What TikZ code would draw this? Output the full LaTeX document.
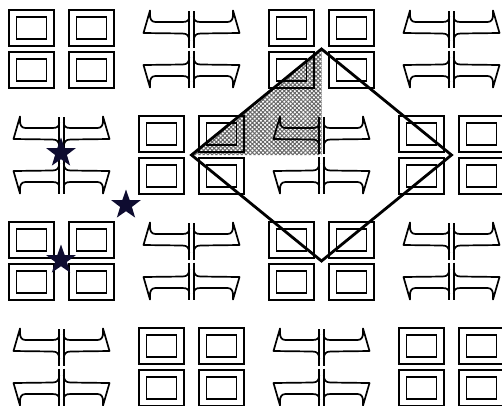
\documentclass[tikz,border=0pt]{standalone}
\usetikzlibrary{shapes.geometric,patterns.meta}
\definecolor{StarInk}{RGB}{14,12,48}

\begin{document}
\begin{tikzpicture}[x=1pt, y=-1pt]
\tikzset{
  boxline/.style={line width=1.8pt},
  braceline/.style={line width=1.7pt, line join=round},
  frame/.style={line width=2.8pt, line join=miter},
  shadetri/.style={pattern={Hatch[angle=45,distance=3pt,line width=1pt]}, pattern color=black!60},
  starmark/.style={star, star points=5, star point ratio=2.5, minimum size=31pt, inner sep=0pt, fill=StarInk},
  boxquad/.pic={
    \draw[boxline] (-52.5,-39) rectangle (-7.5,-3);
    \draw[boxline] (-45,-32) rectangle (-15,-10);
  },
  bracequad/.pic={
    \draw[braceline] (-2.3,-1.5) -- (-2.3,-38.5);
    \draw[braceline] (-2.3,-33) .. controls (-2.3,-28.5) and (-4,-27) .. (-9,-27) -- (-36,-27)
      .. controls (-40,-27) and (-41.5,-30) .. (-41.5,-34) -- (-41.5,-38.5) -- (-48,-16) -- (-9,-15.5)
      .. controls (-4,-15.5) and (-2.3,-13) .. (-2.3,-8);
  },
  boxtile/.pic={
    \pic {boxquad}; \pic[xscale=-1] {boxquad}; \pic[yscale=-1] {boxquad}; \pic[scale=-1] {boxquad};
  },
  bracetile/.pic={
    \pic {bracequad}; \pic[xscale=-1] {bracequad}; \pic[yscale=-1] {bracequad}; \pic[scale=-1] {bracequad};
  }
}
  \useasboundingbox (0,0) rectangle (502,405);
  \clip (0,0) rectangle (502,405);

  \coordinate (dT) at (321.5,49);
  \coordinate (dR) at (451.5,155);
  \coordinate (dB) at (321.5,261);
  \coordinate (dL) at (191.5,155);
  \coordinate (dC) at (321.5,155);

  \fill[shadetri] (dL) -- (dT) -- (dC) -- cycle;

  % row 0
  \pic at (61.5,49) {boxtile};
  \pic at (191.5,49) {bracetile};
  \pic at (321.5,49) {boxtile};
  \pic at (451.5,49) {bracetile};
  % row 1
  \pic at (61.5,155) {bracetile};
  \pic at (191.5,155) {boxtile};
  \pic at (321.5,155) {bracetile};
  \pic at (451.5,155) {boxtile};
  % row 2
  \pic at (61.5,261) {boxtile};
  \pic at (191.5,261) {bracetile};
  \pic at (321.5,261) {boxtile};
  \pic at (451.5,261) {bracetile};
  % row 3
  \pic at (61.5,367) {bracetile};
  \pic at (191.5,367) {boxtile};
  \pic at (321.5,367) {bracetile};
  \pic at (451.5,367) {boxtile};

  \draw[frame] (dT) -- (dR) -- (dB) -- (dL) -- cycle;

  \node[starmark] (s1) at (61,153) {};
  \node[starmark] (s2) at (126,205) {};
  \node[starmark] (s3) at (61,260) {};
\end{tikzpicture}
\end{document}
